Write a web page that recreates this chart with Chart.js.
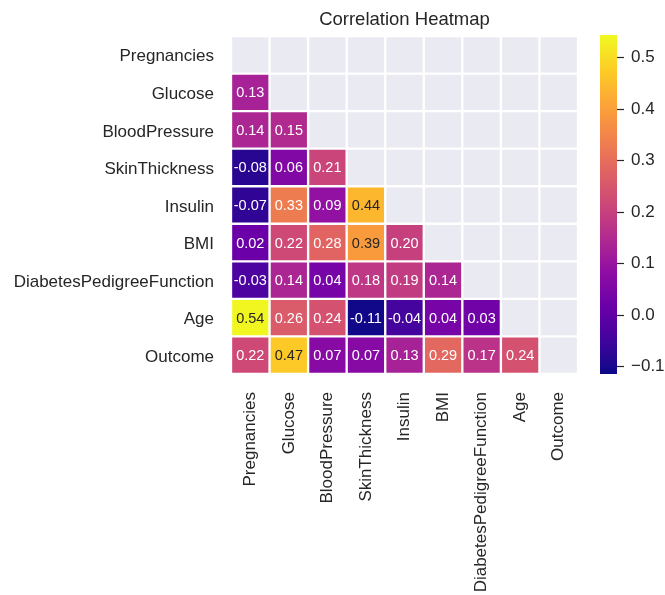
<!DOCTYPE html>
<html>
<head>
<meta charset="utf-8">
<script src="https://cdn.jsdelivr.net/npm/chart.js@4.4.1/dist/chart.umd.min.js"></script>
<style>
body { margin: 0; background: #fff; }
#heat { position: absolute; left: 0; top: 0; }
#cbar { position: absolute; left: 590px; top: 0; }
</style>
</head>
<body>
<canvas id="heat" width="590" height="595"></canvas>
<canvas id="cbar" width="75" height="595"></canvas>
<script>
var features = ['Pregnancies', 'Glucose', 'BloodPressure', 'SkinThickness', 'Insulin',
    'BMI', 'DiabetesPedigreeFunction', 'Age', 'Outcome'];

// lower triangle of the correlation matrix, one row per feature
var corrPregnancies = [];
var corrGlucose = [0.13];
var corrBloodPressure = [0.14, 0.15];
var corrSkinThickness = [-0.08, 0.06, 0.21];
var corrInsulin = [-0.07, 0.33, 0.09, 0.44];
var corrBMI = [0.02, 0.22, 0.28, 0.39, 0.20];
var corrDPF = [-0.03, 0.14, 0.04, 0.18, 0.19, 0.14];
var corrAge = [0.54, 0.26, 0.24, -0.11, -0.04, 0.04, 0.03];
var corrOutcome = [0.22, 0.47, 0.07, 0.07, 0.13, 0.29, 0.17, 0.24];

var corrRows = [corrPregnancies, corrGlucose, corrBloodPressure, corrSkinThickness,
    corrInsulin, corrBMI, corrDPF, corrAge, corrOutcome];

var cbarMin = -0.114
var cbarMax = 0.544
var cbarTicks = [-0.1, 0, 0.1, 0.2, 0.3, 0.4, 0.5];

var textDark = '#262626'
var fontFamily = '"Liberation Sans", Arial, sans-serif'

// plasma colormap
var plasmaStops = ['#0d0887', '#41049d', '#6a00a8', '#8f0da4', '#b12a90', '#cc4778',
    '#e16462', '#f2844b', '#fca636', '#fcce25', '#f0f921'];

function hexRgb(h) {
    return [parseInt(h.substr(1, 2), 16), parseInt(h.substr(3, 2), 16), parseInt(h.substr(5, 2), 16)]
}

function plasma(t) {
    t = Math.max(0, Math.min(1, t))
    var n = plasmaStops.length - 1
    var i = Math.min(Math.floor(t * n), n - 1)
    var f = t * n - i
    var a = hexRgb(plasmaStops[i]), b = hexRgb(plasmaStops[i + 1])
    return a.map(function (v, k) { return Math.round(v + (b[k] - v) * f) })
}

function cellRgb(v) {
    return plasma((v - cbarMin) / (cbarMax - cbarMin))
}

function cellColor(v) {
    if (v == null) return '#eaeaf2'
    var c = cellRgb(v)
    return 'rgb(' + c.join(',') + ')'
}

function labelColor(v) {
    var lin = cellRgb(v).map(function (x) {
        x = x / 255
        return x <= 0.03928 ? x / 12.92 : Math.pow((x + 0.055) / 1.055, 2.4)
    })
    var lum = 0.2126 * lin[0] + 0.7152 * lin[1] + 0.0722 * lin[2]
    return lum > 0.408 ? textDark : '#ffffff'
}

var datasets = features.map(function (name, r) {
    var vals = features.map(function (_, c) {
        return c < corrRows[r].length ? corrRows[r][c] : null
    })
    return {
        label: name,
        data: features.map(function () { return [r, r + 1] }),
        corr: vals,
        backgroundColor: vals.map(cellColor),
        borderColor: '#ffffff',
        borderWidth: 1.5,
        borderSkipped: false,
        grouped: false,
        barPercentage: 1,
        categoryPercentage: 1
    }
})

var annotate = {
    id: 'annotate',
    afterDatasetsDraw: function (chart) {
        var ctx = chart.ctx
        ctx.save()
        ctx.font = '14.5px ' + fontFamily
        ctx.textAlign = 'center'
        ctx.textBaseline = 'middle'
        chart.data.datasets.forEach(function (ds, i) {
            chart.getDatasetMeta(i).data.forEach(function (bar, j) {
                var v = ds.corr[j]
                if (v == null) return
                var p = bar.getProps(['x', 'y', 'base'], true)
                ctx.fillStyle = labelColor(v)
                ctx.fillText(v.toFixed(2), p.x, (p.y + p.base) / 2 + 1)
            })
        })
        ctx.restore()
    }
}

var heatTitle = {
    id: 'heatTitle',
    afterDraw: function (chart) {
        var a = chart.chartArea, ctx = chart.ctx
        ctx.save()
        ctx.font = '18.5px ' + fontFamily
        ctx.fillStyle = textDark
        ctx.textAlign = 'center'
        ctx.textBaseline = 'middle'
        ctx.fillText('Correlation Heatmap', (a.left + a.right) / 2, 20)
        ctx.restore()
    }
}

var tickFont = { family: fontFamily, size: 17 }

new Chart(document.getElementById('heat'), {
    type: 'bar',
    data: { labels: features, datasets: datasets },
    options: {
        responsive: false,
        animation: false,
        devicePixelRatio: 1,
        layout: { padding: { top: 36, right: 12, left: 0, bottom: 0 } },
        plugins: { legend: { display: false }, tooltip: { enabled: false } },
        scales: {
            x: {
                offset: true,
                grid: { display: false },
                border: { display: false },
                ticks: { autoSkip: false, maxRotation: 90, minRotation: 90, padding: 10, color: textDark, font: tickFont },
                afterFit: function (s) {
                    s.height = 221
                    s.paddingLeft = 0
                    s.paddingRight = 0
                }
            },
            y: {
                type: 'linear',
                min: 0,
                max: features.length,
                reverse: true,
                grid: { display: false },
                border: { display: false },
                afterBuildTicks: function (s) {
                    s.ticks = features.map(function (_, i) { return { value: i + 0.5 } })
                },
                ticks: {
                    autoSkip: false, padding: 9, labelOffset: 2, color: textDark, font: tickFont,
                    callback: function (v) { return features[Math.floor(v)] }
                },
                afterFit: function (s) {
                    s.width = 231
                    s.paddingTop = 0
                    s.paddingBottom = 0
                }
            }
        }
    },
    plugins: [annotate, heatTitle]
})

new Chart(document.getElementById('cbar'), {
    type: 'bar',
    data: {
        labels: [''],
        datasets: [{
            data: [[cbarMin, cbarMax]],
            backgroundColor: function (c) {
                var a = c.chart.chartArea
                if (!a) return plasmaStops[5]
                var g = c.chart.ctx.createLinearGradient(0, a.bottom, 0, a.top)
                plasmaStops.forEach(function (s, i) { g.addColorStop(i / (plasmaStops.length - 1), s) })
                return g
            },
            borderWidth: 0,
            barPercentage: 1,
            categoryPercentage: 1
        }]
    },
    options: {
        responsive: false,
        animation: false,
        devicePixelRatio: 1,
        layout: { padding: { left: 10, top: 35, bottom: 221, right: 0 } },
        plugins: { legend: { display: false }, tooltip: { enabled: false } },
        scales: {
            x: { display: false },
            y: {
                position: 'right',
                min: cbarMin,
                max: cbarMax,
                afterBuildTicks: function (s) {
                    s.ticks = cbarTicks.map(function (v) { return { value: v } })
                },
                grid: { drawOnChartArea: false, tickLength: 7, tickColor: textDark, tickWidth: 1.2 },
                border: { display: false },
                ticks: {
                    padding: 7, color: textDark, font: tickFont,
                    callback: function (v) { return (v < 0 ? '\u2212' : '') + Math.abs(v).toFixed(1) }
                },
                afterFit: function (s) {
                    s.width = 48
                    s.paddingTop = 0
                    s.paddingBottom = 0
                }
            }
        }
    }
})
</script>
</body>
</html>
